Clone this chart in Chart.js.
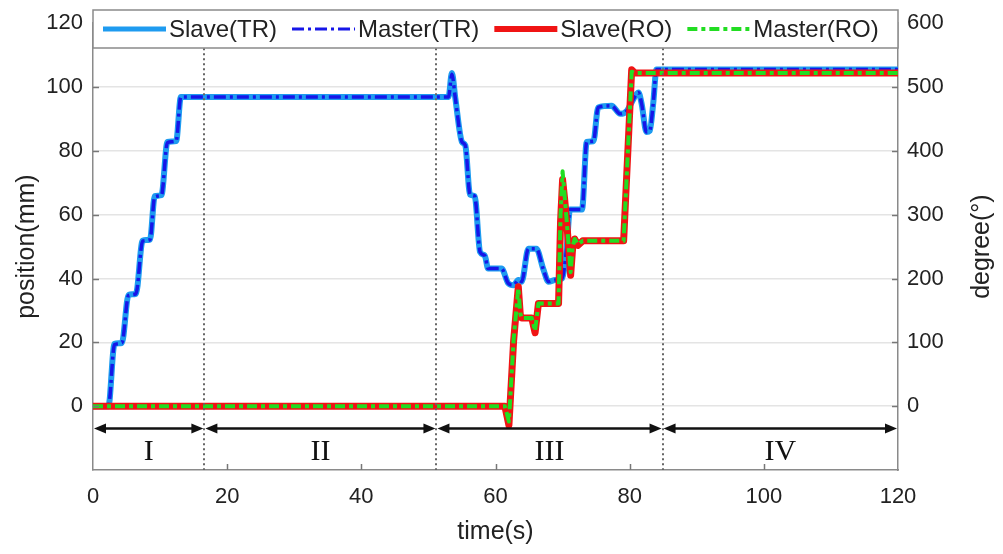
<!DOCTYPE html>
<html>
<head>
<meta charset="utf-8">
<script src="https://cdn.jsdelivr.net/npm/chart.js@4.4.1/dist/chart.umd.min.js"></script>
<style>
  body { margin: 0; background: #fff; }
  #wrap { width: 1003px; height: 554px; position: relative; }
</style>
</head>
<body>
<div id="wrap"><canvas id="jointChart"></canvas></div>
<script>
// translation joint, position in mm
const tTR = [0, 2.3, 3.2, 4.3, 5.3, 6.4, 7.4, 8.5, 9.2, 10.2, 11.1, 12.4, 13.1, 53.0, 53.5, 54.0, 55.0, 55.5,
    56.2, 56.9, 57.7, 58.4, 58.9, 60.9, 61.9, 62.7, 63.4, 63.9, 64.9, 66.1, 67.1, 67.9, 68.9, 69.9, 70.6,
    71.1, 72.9, 73.6, 74.6, 75.3, 77.3, 78.6, 79.6, 80.3, 81.3, 81.8, 82.5, 83.0, 83.5, 84.0, 120];
const slaveTR = [0, 0, 19.5, 19.8, 34.9, 35.2, 51.9, 52.2, 65.8, 66.1, 82.8, 83.1, 96.9, 96.9, 104.4, 96.7, 82.8, 81.7,
    66.3, 65.8, 48.3, 47.2, 43.1, 43.1, 38.5, 37.9, 39.5, 39.0, 49.3, 49.3, 43.1, 39.0, 39.5, 40.0, 49.3,
    61.6, 61.6, 82.8, 83.0, 93.6, 94.1, 91.6, 92.6, 95.2, 98.3, 94.6, 85.9, 86.3, 94.6, 105.5, 105.5];
const masterTR = [0, 0, 19.3, 19.8, 34.7, 35.2, 51.7, 52.2, 65.6, 66.1, 82.6, 83.1, 96.9, 96.9, 104.0, 96.7, 82.8, 81.7,
    66.3, 65.8, 48.3, 47.2, 43.1, 43.1, 38.5, 37.9, 39.5, 39.0, 49.3, 49.3, 43.1, 39.0, 39.5, 40.0, 49.3,
    61.6, 61.6, 82.8, 83.0, 93.6, 94.1, 91.6, 92.6, 95.2, 98.3, 94.6, 85.9, 86.3, 94.6, 105.5, 105.5];

// rotation joint, angle in degrees
const tRO = [0, 61.4, 62.0, 62.7, 63.4, 63.7, 63.9, 65.4, 65.9, 66.4, 69.4, 69.7, 70.0, 70.3, 70.6, 70.9,
    71.2, 71.5, 71.8, 72.3, 73.0, 79.1, 80.3, 80.8, 120];
const slaveRO = [0, 0, -30, 102, 187, 143, 138, 138, 115, 161, 161, 290, 355, 325, 290, 250,
    205, 248, 262, 252, 259, 259, 527, 522, 522];
const masterRO = [0, 0, -24, 104, 185, 145, 138, 138, 118, 161, 161, 300, 368, 330, 292, 252,
    210, 250, 262, 254, 259, 259, 524, 522, 522];

const xTicks = [0, 20, 40, 60, 80, 100, 120];
const posTicks = [0, 20, 40, 60, 80, 100, 120];
const degTicks = [0, 100, 200, 300, 400, 500, 600];

// phases of the experiment
const phaseBounds = [0, 16.6, 51.2, 84.9, 120];
const phaseNames = ['I', 'II', 'III', 'IV'];

const toPoints = function (t, v) {
    return t.map(function (x, i) { return { x: x, y: v[i] }; });
};

Chart.defaults.font.family = '"Liberation Sans", Arial, sans-serif';
Chart.defaults.color = '#222';

const arrowHead = function (ctx, x, y, dir) {
    ctx.beginPath();
    ctx.moveTo(x, y);
    ctx.lineTo(x - dir * 12, y - 5);
    ctx.lineTo(x - dir * 12, y + 5);
    ctx.closePath();
    ctx.fill();
};

const decorPlugin = {
    id: 'decor',
    afterDatasetsDraw: function (chart) {
        const ctx = chart.ctx, a = chart.chartArea;
        const xs = chart.scales.x, ys = chart.scales.y, yd = chart.scales.y2;
        ctx.save();

        // inner tick marks
        ctx.strokeStyle = '#777';
        ctx.lineWidth = 1.5;
        ctx.beginPath();
        posTicks.forEach(function (v) {
            const py = Math.round(ys.getPixelForValue(v)) + 0.5;
            ctx.moveTo(a.left, py); ctx.lineTo(a.left + 6, py);
        });
        degTicks.forEach(function (v) {
            const py = Math.round(yd.getPixelForValue(v)) + 0.5;
            ctx.moveTo(a.right - 6, py); ctx.lineTo(a.right, py);
        });
        xTicks.slice(1, -1).forEach(function (v) {
            const px = Math.round(xs.getPixelForValue(v)) + 0.5;
            ctx.moveTo(px, a.bottom); ctx.lineTo(px, a.bottom - 6);
        });
        ctx.stroke();

        // dotted phase boundaries
        ctx.strokeStyle = '#666';
        ctx.lineWidth = 2;
        ctx.setLineDash([2, 3]);
        phaseBounds.slice(1, -1).forEach(function (t) {
            const px = Math.round(xs.getPixelForValue(t));
            ctx.beginPath();
            ctx.moveTo(px, a.top);
            ctx.lineTo(px, a.bottom);
            ctx.stroke();
        });
        ctx.setLineDash([]);

        // double arrows for each phase
        const ay = ys.getPixelForValue(-7);
        ctx.strokeStyle = '#111';
        ctx.fillStyle = '#111';
        ctx.lineWidth = 2.5;
        for (let i = 0; i < phaseNames.length; i++) {
            const x0 = xs.getPixelForValue(phaseBounds[i]) + 1;
            const x1 = xs.getPixelForValue(phaseBounds[i + 1]) - 1;
            ctx.beginPath();
            ctx.moveTo(x0 + 6, ay);
            ctx.lineTo(x1 - 6, ay);
            ctx.stroke();
            arrowHead(ctx, x0, ay, -1);
            arrowHead(ctx, x1, ay, 1);
        }

        // phase names
        ctx.font = '30px "Liberation Serif", "Times New Roman", serif';
        ctx.textAlign = 'center';
        ctx.textBaseline = 'middle';
        const ly = ys.getPixelForValue(-14.5);
        for (let i = 0; i < phaseNames.length; i++) {
            const cx = (xs.getPixelForValue(phaseBounds[i]) + xs.getPixelForValue(phaseBounds[i + 1])) / 2;
            ctx.fillText(phaseNames[i], cx, ly);
        }
        ctx.restore();
    },
    afterDraw: function (chart) {
        const ctx = chart.ctx, a = chart.chartArea;
        ctx.save();

        // right axis title, read bottom to top
        ctx.font = '25px "Liberation Sans", Arial, sans-serif';
        ctx.fillStyle = '#222';
        ctx.textAlign = 'center';
        ctx.textBaseline = 'middle';
        ctx.translate(982, (a.top + a.bottom) / 2);
        ctx.rotate(-Math.PI / 2);
        ctx.fillText('degree(°)', 0, 0);
        ctx.setTransform(1, 0, 0, 1, 0, 0);

        // legend box across the top of the plot
        const top = 10, bottom = 48, my = 29;
        ctx.fillStyle = '#fff';
        ctx.fillRect(a.left, top, a.right - a.left, bottom - top);
        ctx.strokeStyle = '#8a8a8a';
        ctx.lineWidth = 1.5;
        ctx.strokeRect(a.left, top, a.right - a.left, bottom - top);

        ctx.font = '24px "Liberation Sans", Arial, sans-serif';
        ctx.textAlign = 'left';
        let x = a.left + 10;
        chart.data.datasets.forEach(function (ds) {
            ctx.strokeStyle = ds.borderColor;
            ctx.lineWidth = ds.legendWidth;
            ctx.setLineDash(ds.borderDash || []);
            ctx.beginPath();
            ctx.moveTo(x, my);
            ctx.lineTo(x + 63, my);
            ctx.stroke();
            ctx.setLineDash([]);
            ctx.fillStyle = '#222';
            ctx.fillText(ds.label, x + 66, my + 1);
            x += 66 + ctx.measureText(ds.label).width + 15;
        });
        ctx.restore();
    }
};

new Chart(document.getElementById('jointChart'), {
    type: 'line',
    data: {
        datasets: [
            {
                label: 'Slave(TR)',
                data: toPoints(tTR, slaveTR),
                yAxisID: 'y',
                borderColor: '#1e9bf0',
                borderWidth: 6,
                legendWidth: 5,
                cubicInterpolationMode: 'monotone',
                order: 3
            },
            {
                label: 'Master(TR)',
                data: toPoints(tTR, masterTR),
                yAxisID: 'y',
                borderColor: '#1616e8',
                borderWidth: 3.5,
                legendWidth: 3,
                borderDash: [12, 4, 3, 4],
                cubicInterpolationMode: 'monotone',
                order: 2
            },
            {
                label: 'Slave(RO)',
                data: toPoints(tRO, slaveRO),
                yAxisID: 'y2',
                borderColor: '#f01414',
                borderWidth: 7,
                legendWidth: 6,
                order: 1
            },
            {
                label: 'Master(RO)',
                data: toPoints(tRO, masterRO),
                yAxisID: 'y2',
                borderColor: '#22dd22',
                borderWidth: 4,
                legendWidth: 4,
                borderDash: [10, 4, 4, 4],
                order: 0
            }
        ]
    },
    options: {
        responsive: true,
        maintainAspectRatio: false,
        animation: false,
        layout: { padding: { top: 18, right: 0, bottom: 0, left: 0 } },
        elements: { point: { radius: 0 }, line: { borderCapStyle: 'butt', borderJoinStyle: 'round' } },
        plugins: { legend: { display: false }, tooltip: { enabled: false } },
        scales: {
            x: {
                type: 'linear',
                min: 0,
                max: 120,
                afterBuildTicks: function (s) { s.ticks = xTicks.map(function (v) { return { value: v }; }); },
                afterFit: function (s) { s.height = 84; },
                ticks: { padding: 14, font: { size: 22 } },
                grid: { drawOnChartArea: false, drawTicks: false },
                border: { color: '#8a8a8a', width: 1.5 },
                title: { display: true, text: 'time(s)', font: { size: 25 }, padding: { top: 0, bottom: 7 } }
            },
            y: {
                position: 'left',
                min: -20,
                max: 120,
                afterBuildTicks: function (s) { s.ticks = posTicks.map(function (v) { return { value: v }; }); },
                afterFit: function (s) { s.width = 93; },
                ticks: { padding: 10, font: { size: 22 } },
                grid: { color: '#e4e4e4', lineWidth: 1.5, drawTicks: false },
                border: { color: '#8a8a8a', width: 1.5 },
                title: { display: true, text: 'position(mm)', font: { size: 25 }, padding: { top: 12, bottom: 0 } }
            },
            y2: {
                position: 'right',
                min: -100,
                max: 600,
                afterBuildTicks: function (s) { s.ticks = degTicks.map(function (v) { return { value: v }; }); },
                afterFit: function (s) { s.width = 105; },
                ticks: { padding: 9, font: { size: 22 } },
                grid: { drawOnChartArea: false, drawTicks: false },
                border: { color: '#8a8a8a', width: 1.5 }
            }
        }
    },
    plugins: [decorPlugin]
});
</script>
</body>
</html>
